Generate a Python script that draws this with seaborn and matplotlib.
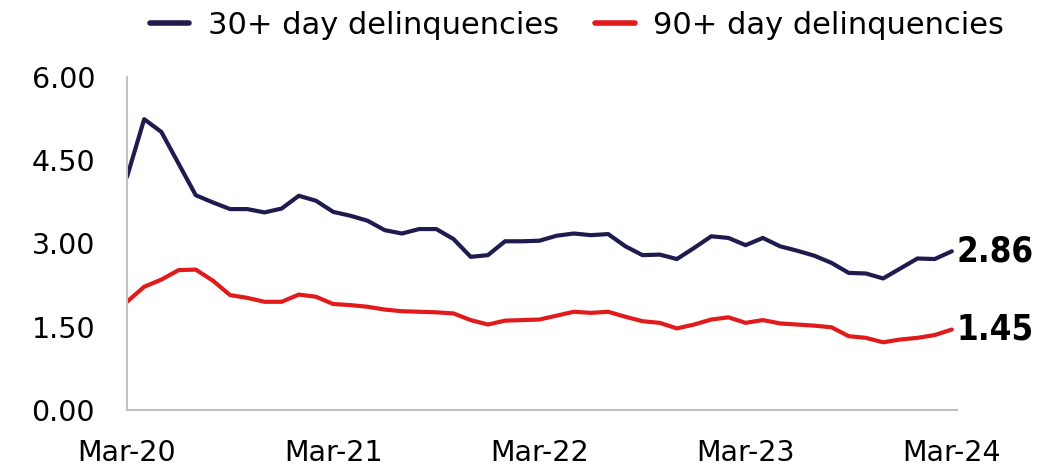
import numpy as np
import pandas as pd
import matplotlib
matplotlib.use("Agg")
import matplotlib.pyplot as plt
import seaborn as sns

# ─── DATA ─────────────────────────────────────────────────
# monthly, Mar-20 .. Mar-24 (49 points)
dlq_30 = [4.20, 5.24, 5.01, 4.44, 3.87, 3.74, 3.62, 3.62, 3.56, 3.63,
          3.86, 3.77, 3.57, 3.50, 3.41, 3.24, 3.18, 3.26, 3.26, 3.08,
          2.76, 2.79, 3.04, 3.04, 3.05, 3.14, 3.18, 3.15, 3.17, 2.95,
          2.79, 2.80, 2.72, 2.92, 3.13, 3.10, 2.97, 3.10, 2.95, 2.87,
          2.78, 2.65, 2.47, 2.46, 2.37, 2.55, 2.73, 2.72, 2.86]
dlq_90 = [1.95, 2.22, 2.35, 2.52, 2.53, 2.33, 2.07, 2.02, 1.95, 1.95,
          2.08, 2.04, 1.91, 1.89, 1.86, 1.81, 1.78, 1.77, 1.76, 1.74,
          1.62, 1.54, 1.61, 1.62, 1.63, 1.70, 1.77, 1.75, 1.77, 1.68,
          1.60, 1.57, 1.47, 1.54, 1.63, 1.67, 1.57, 1.62, 1.56, 1.54,
          1.52, 1.49, 1.33, 1.30, 1.22, 1.27, 1.30, 1.35, 1.45]
tick_labels = ['Mar-20', 'Mar-21', 'Mar-22', 'Mar-23', 'Mar-24']
y_ticks = [0.0, 1.5, 3.0, 4.5, 6.0]
series_names = ['30+ day delinquencies', '90+ day delinquencies']
colors = ['#1e1b4f', '#e11b1b']

# ─── BUILD LONG TABLE ─────────────────────────────────────
n = len(dlq_30)
df = pd.DataFrame({
    'month': list(range(n)) * 2,
    'value': dlq_30 + dlq_90,
    'series': [series_names[0]] * n + [series_names[1]] * n,
})

# ─── PLOT ─────────────────────────────────────────────────
sns.set_style('white')
plt.rcParams['font.family'] = ['DejaVu Sans']
plt.rcParams['text.color'] = 'black'

fig = plt.figure(figsize=(10.42, 4.68), dpi=100)
ax = fig.add_axes([127 / 1042, 58 / 468, 830 / 1042, 333 / 468])

sns.lineplot(data=df, x='month', y='value', hue='series',
             palette=colors, linewidth=3, ax=ax)

ax.set_xlim(0, 48.3)
ax.set_ylim(0, 6)
ax.set_xticks([0, 12, 24, 36, 48])
ax.set_xticklabels(tick_labels)
ax.set_yticks(y_ticks)
ax.set_yticklabels([f'{v:.2f}' for v in y_ticks])
ax.tick_params(axis='both', labelsize=20.5, length=0, colors='black')
ax.tick_params(axis='x', pad=21)
ax.tick_params(axis='y', pad=23)
ax.set_xlabel('')
ax.set_ylabel('')

for side in ['top', 'right']:
    ax.spines[side].set_visible(False)
for side in ['left', 'bottom']:
    ax.spines[side].set_color('#c0c0c0')
    ax.spines[side].set_linewidth(1.5)

# end-point labels (condensed bold)
for vals in [dlq_30, dlq_90]:
    ax.annotate(f'{vals[-1]:.2f}', xy=(n - 1, vals[-1]), xytext=(3, 0),
                textcoords='offset points', va='center', ha='left',
                fontsize=25, fontweight='bold', fontstretch='condensed',
                color='black', family=['DejaVu Sans'])

leg = ax.legend(loc='center', bbox_to_anchor=(0.542, 1.155), ncol=2,
                frameon=False, fontsize=22, handlelength=1.3,
                columnspacing=1.2, handletextpad=0.6)
for line in leg.get_lines():
    line.set_linewidth(4)
for txt in leg.get_texts():
    txt.set_color('black')

fig.savefig('out.png', dpi=100)
